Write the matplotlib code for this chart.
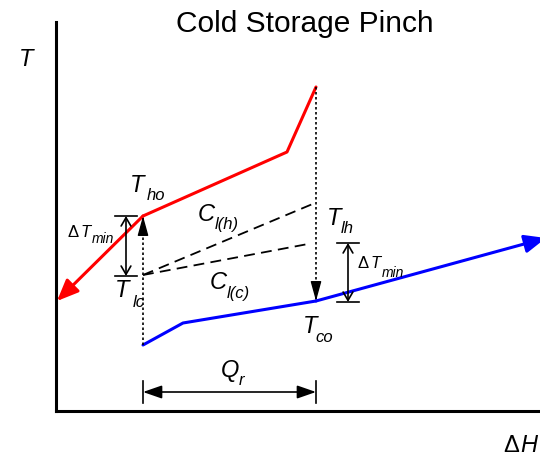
import matplotlib
matplotlib.use("Agg")
import matplotlib.pyplot as plt

plt.rcParams["font.family"] = ["Liberation Sans", "DejaVu Sans"]

# chart units: H = enthalpy axis, T = temperature axis (arbitrary)
# hot composite curve, first point is the arrow tip at the low end
hot_H = [1, 87, 231, 260]
hot_T = [110, 195, 259, 324]

# cold composite curve, last point is the arrow tip at the high end
cold_H = [87, 127, 260, 490]
cold_T = [66, 88, 110, 173]

# recovered heat range Q_r
qr_H = [87, 260]
qr_T = 19

# cold storage lines C_l(h) and C_l(c), from common start
storage_start = (87, 136)
storage_h_end = (259, 208)
storage_c_end = (252, 167)

# delta T min markers: (H, T low, T high)
dtmin_left = (70, 135, 195)
dtmin_right = (292, 109, 168)


def to_data(x, y):
    # pixel position in the picture -> chart units
    return x - 56, 412 - y


fig = plt.figure(figsize=(5.4, 4.56), dpi=100)
ax = fig.add_axes([56 / 540, 44 / 456, 484 / 540, 389 / 456])
ax.set_xlim(0, 484)
ax.set_ylim(0, 389)
for s in ["top", "right"]:
    ax.spines[s].set_visible(False)
for s in ["left", "bottom"]:
    ax.spines[s].set_linewidth(2.2)
ax.set_xticks([])
ax.set_yticks([])


def arrow(p_from, p_to, style, color="black", lw=1.2):
    ax.annotate("", xy=p_to, xytext=p_from,
                arrowprops=dict(arrowstyle=style, color=color, lw=lw,
                                shrinkA=0, shrinkB=0, mutation_scale=1),
                annotation_clip=False)


# hot curve
ax.plot(hot_H[1:], hot_T[1:], color="red", lw=2.2, solid_capstyle="round",
        solid_joinstyle="round", clip_on=False)
arrow((hot_H[1], hot_T[1]), (hot_H[0], hot_T[0]),
      "-|>,head_length=13,head_width=5.5", color="red", lw=2.2)

# cold curve
ax.plot(cold_H[:-1], cold_T[:-1], color="blue", lw=2.2, solid_capstyle="round",
        solid_joinstyle="round", clip_on=False)
arrow((cold_H[-2], cold_T[-2]), (cold_H[-1], cold_T[-1]),
      "-|>,head_length=13,head_width=5.5", color="blue", lw=2.2)

# dotted verticals with arrow heads
ax.plot([qr_H[0], qr_H[0]], [cold_T[0], hot_T[1]], color="black", lw=1.2,
        ls=(0, (1.5, 1.5)))
arrow((qr_H[0], hot_T[1] - 16), (qr_H[0], hot_T[1]),
      "-|>,head_length=12,head_width=3.3", lw=1.0)
ax.plot([qr_H[1], qr_H[1]], [hot_T[-1], cold_T[2]], color="black", lw=1.2,
        ls=(0, (1.5, 1.5)))
arrow((qr_H[1], cold_T[2] + 16), (qr_H[1], cold_T[2]),
      "-|>,head_length=12,head_width=3.3", lw=1.0)

# storage dashed lines
for end in [storage_h_end, storage_c_end]:
    ax.plot([storage_start[0], end[0]], [storage_start[1], end[1]],
            color="black", lw=1.3, ls=(0, (6, 3.5)))

# delta T min markers
for h, tlo, thi in [dtmin_left, dtmin_right]:
    arrow((h, tlo), (h, thi), "<->,head_length=6,head_width=3.5", lw=1.2)
    for t in [tlo, thi]:
        ax.plot([h - 11, h + 11], [t, t], color="black", lw=1.2)

# Q_r dimension arrow
arrow((qr_H[0], qr_T), (qr_H[1], qr_T), "<|-|>,head_length=11.5,head_width=4",
      lw=1.2)
for h in qr_H:
    ax.plot([h, h], [qr_T - 11, qr_T + 11], color="black", lw=1.2, clip_on=False)


def label(x, y, s, size=17, italic=True):
    hx, ty = to_data(x, y)
    ax.text(hx, ty, s, fontsize=size, style="italic" if italic else "normal",
            ha="left", va="baseline", clip_on=False)


# main letter + subscript, given by pixel position of each (left, baseline)
label(130, 192, "T")
label(147, 200, "ho", 12)
label(115, 297, "T")
label(133, 307, "lc", 12)
label(198, 221, "C")
label(215, 229, "l(h)", 12)
label(210, 289, "C")
label(227, 298, "l(c)", 12)
label(327, 225, "T")
label(341, 233, "lh", 12)
label(303, 333, "T")
label(315, 342, "co", 12)
label(221, 377, "Q")
label(239, 385, "r", 12)

label(67, 237, "Δ", 12, italic=False)
label(80, 237, "T", 12)
label(92, 243, "min", 10)
label(357, 268, "Δ", 12, italic=False)
label(370, 268, "T", 12)
label(382, 277, "min", 10)

label(19, 66, "T")
label(503, 452, "Δ", 17, italic=False)
label(520, 452, "H")

fig.text(304.5 / 540, 1 - 32 / 456, "Cold Storage Pinch", fontsize=21.5,
         ha="center", va="baseline")

fig.savefig("out.png", dpi=100)
